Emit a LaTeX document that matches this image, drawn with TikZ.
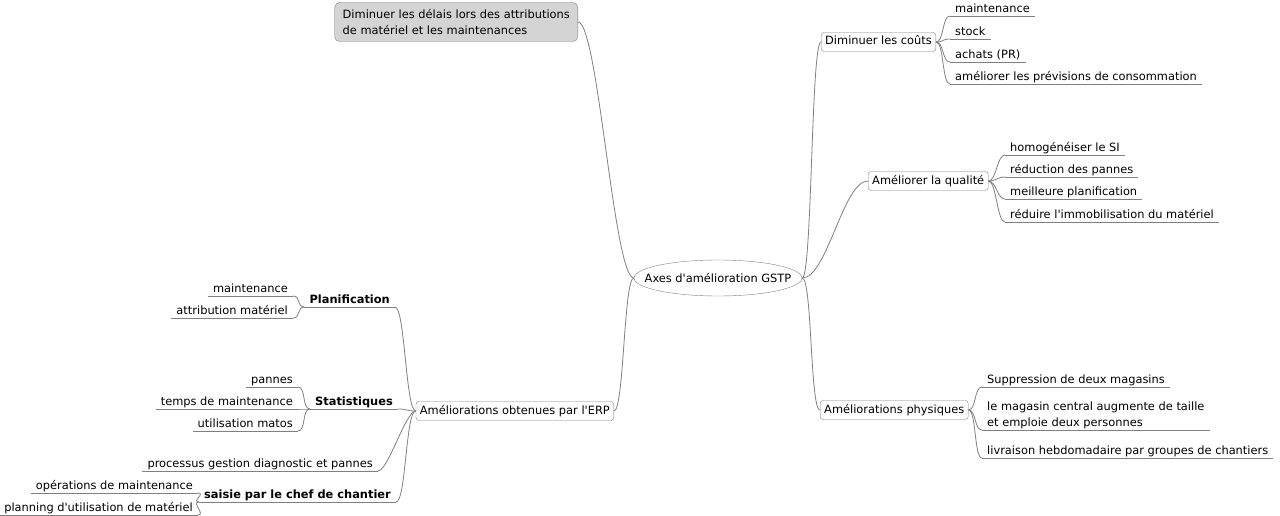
\documentclass[tikz,border=0pt]{standalone}
\usepackage{fontspec}
\setmainfont{DejaVu Sans}[Ligatures=TeXOff]
\usetikzlibrary{shapes.geometric}
\definecolor{edgegray}{RGB}{128,128,128}
\definecolor{notegray}{RGB}{212,212,212}

\begin{document}
\begin{tikzpicture}[x=1pt,y=-1pt,
	font=\fontsize{11.4}{16}\selectfont,
	link/.style={draw=edgegray, line width=0.8pt},
	box/.style={draw=edgegray, rounded corners=3pt, fill=white, minimum height=19pt, inner xsep=4pt, inner ysep=0pt, text height=8.5pt, text depth=2.5pt},
	notebox/.style={draw=edgegray, rounded corners=5pt, fill=notegray, align=left, inner xsep=8pt, inner ysep=3pt, minimum height=39pt},
	rootnode/.style={ellipse, draw=edgegray, minimum width=168pt, minimum height=36pt, inner xsep=-16pt, inner ysep=0pt},
	leaf/.style={inner xsep=5pt, inner ysep=1pt, text depth=2.5pt},
	group/.style={leaf, font=\fontsize{11.4}{16}\selectfont\bfseries}]
			\useasboundingbox (0,0) rectangle (1280,516);
			% centre
			\node[rootnode] (root) at (718,278) {Axes d'am\'elioration GSTP};
			\node[notebox, anchor=east] (note) at (578,22) {Diminuer les d\'elais lors des attributions\\de mat\'eriel et les maintenances};
			\node[box, anchor=west] (cout) at (821,42) {Diminuer les co\^uts};
			\node[box, anchor=west] (qual) at (868,181) {Am\'eliorer la qualit\'e};
			\node[box, anchor=west] (phys) at (820,410) {Am\'eliorations physiques};
			\node[box, anchor=east] (erp) at (614,411) {Am\'eliorations obtenues par l'ERP};
			% branche couts
			\node[leaf, anchor=south west] (coutMaint) at (950,16) {maintenance};
			\node[leaf, anchor=south west] (coutStock) at (950,39) {stock};
			\node[leaf, anchor=south west] (coutAchats) at (950,62) {achats (PR)};
			\node[leaf, anchor=south west] (coutPrev) at (950,84) {am\'eliorer les pr\'evisions de consommation};
			% branche qualite
			\node[leaf, anchor=south west] (qualSI) at (1005,155) {homog\'en\'eiser le SI};
			\node[leaf, anchor=south west] (qualPannes) at (1005,177) {r\'eduction des pannes};
			\node[leaf, anchor=south west] (qualPlanif) at (1005,199) {meilleure planification};
			\node[leaf, anchor=south west] (qualImmo) at (1005,222) {r\'eduire l'immobilisation du mat\'eriel};
			% branche physique
			\node[leaf, anchor=south west] (physSuppr) at (982,387) {Suppression de deux magasins};
			\node[leaf, anchor=south west, align=left] (physMag) at (982,430) {le magasin central augmente de taille\\et emploie deux personnes};
			\node[leaf, anchor=south west] (physLivr) at (982,458) {livraison hebdomadaire par groupes de chantiers};
			% branche ERP
			\node[group, anchor=south east] (planif) at (395,307) {Planification};
			\node[group, anchor=south east] (stats) at (398,409) {Statistiques};
			\node[leaf, anchor=south east] (procDiag) at (378,471) {processus gestion diagnostic et pannes};
			\node[group, anchor=south east] (saisie) at (396,502) {saisie par le chef de chantier};
			\node[leaf, anchor=south east] (planMaint) at (293,296) {maintenance};
			\node[leaf, anchor=south east] (planAttr) at (293,318) {attribution mat\'eriel};
			\node[leaf, anchor=south east] (statPannes) at (298,387) {pannes};
			\node[leaf, anchor=south east] (statTemps) at (298,409) {temps de maintenance};
			\node[leaf, anchor=south east] (statUtil) at (298,431) {utilisation matos};
			\node[leaf, anchor=south east] (saisieOps) at (198,493) {op\'erations de maintenance};
			\node[leaf, anchor=south east] (saisiePlanning) at (198,515) {planning d'utilisation de mat\'eriel};
			% soulignements
			\foreach \n in {coutMaint,coutStock,coutAchats,coutPrev,qualSI,qualPannes,qualPlanif,qualImmo,physSuppr,physMag,physLivr,planif,stats,procDiag,saisie,planMaint,planAttr,statPannes,statTemps,statUtil,saisieOps,saisiePlanning}
				\draw[link] (\n.south west) -- (\n.south east);
			% liens du centre
			\draw[link] (root.west) .. controls +(-20,0) and +(20,0) .. (note.east);
			\draw[link] (root.west) .. controls +(-10,0) and +(10,0) .. (erp.east);
			\draw[link] (root.east) .. controls +(10,0) and +(-10,0) .. (cout.west);
			\draw[link] (root.east) .. controls +(25,0) and +(-25,0) .. (qual.west);
			\draw[link] (root.east) .. controls +(10,0) and +(-10,0) .. (phys.west);
			% liens des feuilles
			\foreach \c in {coutMaint,coutStock,coutAchats,coutPrev}
				\draw[link] (cout.east) .. controls +(8,0) and +(-8,0) .. (\c.south west);
			\foreach \c in {qualSI,qualPannes,qualPlanif,qualImmo}
				\draw[link] (qual.east) .. controls +(8,0) and +(-8,0) .. (\c.south west);
			\foreach \c in {physSuppr,physMag,physLivr}
				\draw[link] (phys.east) .. controls +(8,0) and +(-8,0) .. (\c.south west);
			\foreach \c in {planif,stats,procDiag,saisie}
				\draw[link] (erp.west) .. controls +(-10,0) and +(10,0) .. (\c.south east);
			\foreach \c in {planMaint,planAttr}
				\draw[link] (planif.south west) .. controls +(-8,0) and +(8,0) .. (\c.south east);
			\foreach \c in {statPannes,statTemps,statUtil}
				\draw[link] (stats.south west) .. controls +(-8,0) and +(8,0) .. (\c.south east);
			\foreach \c in {saisieOps,saisiePlanning}
				\draw[link] (saisie.south west) .. controls +(-8,0) and +(8,0) .. (\c.south east);
\end{tikzpicture}
\end{document}
